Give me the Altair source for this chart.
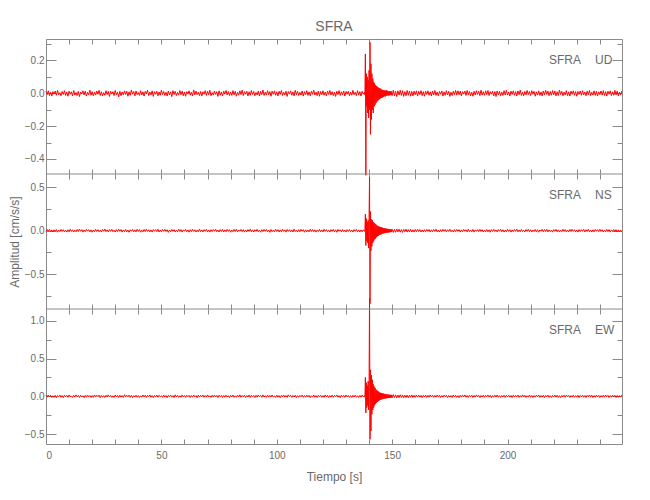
import altair as alt
import numpy as np
import pandas as pd

# ---------------- data (accelerations typed in mGal, i.e. 0.001 cm/s/s) ----------------
station = "SFRA"
components = ["UD", "NS", "EW"]
plot_title = "SFRA"
x_title = "Tiempo [s]"
y_title = "Amplitud [cm/s/s]"

x_domain = [0.0, 249.6]
x_label_values = [0, 50, 100, 150, 200]
x_tick_values = [10, 20, 30, 40, 50, 60, 70, 80, 90, 100, 110, 120, 130, 140, 150, 160,
                 170, 180, 190, 200, 210, 220, 230, 240]

ud_domain = [-0.492, 0.331]
ns_domain = [-0.90, 0.652]
ew_domain = [-0.632, 1.156]
ud_major = [-0.4, -0.2, 0.0, 0.2]
ns_major = [-0.5, 0.0, 0.5]
ew_major = [-0.5, 0.0, 0.5, 1.0]
ud_minor = [-0.3, -0.1, 0.1, 0.3]
ns_minor = [-0.75, -0.25, 0.25]
ew_minor = [-0.25, 0.25, 0.75]

pre_start, pre_step = 0.0, 0.5
evt_start, evt_step = 138.0, 0.2
post_start, post_step = 150.0, 0.5

ud_pre = [12, -8, 15, -14, 6, -17, 10, -5, 14, -12, 18, -9, 4, -15, 11, -7, 16, -13, 8, -18,
          13, -6, 9, -16, 17, -11, 5, -14, 12, -20, 8, -4, 15, -10, 13, -17, 6, -9, 19, -12,
          10, -15, 7, -11, 14, -6, 18, -13, 9, -16, 4, -12, 16, -8, 11, -19, 13, -5, 10, -14,
          17, -9, 6, -22, 12, -15, 8, -10, 15, -7, 13, -18, 9, -12, 20, -6, 11, -16, 14, -8,
          5, -13, 16, -11, 9, -17, 12, -4, 18, -14, 7, -10, 15, -19, 10, -6, 13, -15, 8, -12,
          19, -8, 11, -13, 6, -16, 14, -10, 9, -20, 16, -7, 12, -14, 5, -11, 17, -9, 13, -15,
          8, -18, 10, -5, 15, -12, 7, -16, 21, -10, 13, -8, 6, -14, 11, -17, 9, -6, 16, -13,
          12, -9, 18, -15, 4, -11, 14, -7, 10, -19, 15, -12, 8, -16, 13, -5, 17, -10, 11, -14,
          7, -13, 16, -9, 12, -18, 6, -11, 15, -8, 19, -14, 10, -6, 13, -16, 9, -12, 17, -7,
          11, -15, 5, -10, 14, -17, 12, -8, 20, -13, 7, -11, 16, -9, 10, -18, 13, -6, 15, -12,
          9, -16, 12, -7, 17, -14, 6, -10, 13, -19, 11, -5, 15, -12, 8, -16, 18, -9, 12, -13,
          6, -11, 14, -17, 10, -8, 16, -13, 9, -15, 12, -6, 19, -10, 7, -14, 13, -18, 11, -9,
          15, -12, 8, -16, 13, -7, 17, -11, 10, -14, 6, -19, 12, -8, 16, -13, 9, -10, 14, -17,
          11, -6, 13, -15, 8, -12, 18, -9, 7, -14, 16, -11, 10, -17, 12, -5]
ud_evt = [6, -10, 240, -500, 120, -80, 100, -120, 80, -150,
          140, -100, 310, -250, 180, -160, 120, -100, 90, -120,
          70, -80, 60, -70, 50, -60, 45, -50, 40, -45,
          35, -40, 30, -35, 30, -30, 25, -28, 22, -25,
          20, -22, 20, -18, 17, -20, 16, -15, 18, -14,
          15, -13, 12, -14, 11, -12, 13, -10, 12, -11]
ud_post = [-14, 19, -16, 12, -20, 15, -11, 18, -13, 16, -19, 10, -15, 17, -12, 14, -18, 11, -16, 13,
           -9, 15, -17, 12, -8, 16, -14, 10, -18, 13, -7, 15, -12, 9, -16, 14, -10, 17, -13, 8,
           -15, 11, -6, 14, -17, 9, -12, 16, -10, 13, -19, 7, -14, 12, -8, 18, -11, 15, -9, 13,
           -16, 10, -5, 14, -13, 17, -9, 11, -15, 6, -18, 12, -10, 16, -7, 13, -14, 19, -11, 9,
           -12, 15, -8, 17, -14, 10, -6, 13, -16, 11, -20, 14, -9, 12, -15, 7, -13, 16, -10, 18,
           -11, 8, -17, 13, -7, 15, -12, 10, -16, 14, -9, 19, -13, 6, -15, 12, -10, 17, -8, 11,
           -14, 16, -6, 12, -18, 9, -11, 15, -13, 8, -16, 14, -10, 18, -7, 13, -15, 11, -12, 17,
           -9, 14, -16, 10, -13, 19, -8, 12, -15, 7, -11, 16, -14, 9, -17, 13, -6, 15, -12, 10,
           -18, 11, -7, 14, -12, 16, -10, 8, -15, 13, -9, 17, -14, 6, -11, 15, -13, 12, -16, 9,
           -8, 14, -11, 16, -13, 10, -17, 12, -6, 15, -14, 9, -12, 18, -10, 13, -15, 7, -11, 14]

ns_pre = [-10, 14, -7, 16, -12, 9, -15, 11, -6, 13, -17, 8, -11, 15, -9, 12, -14, 7, -16, 10,
          -13, 17, -8, 11, -15, 6, -12, 14, -10, 18, -7, 13, -16, 9, -11, 15, -5, 12, -14, 10,
          -17, 8, -13, 16, -9, 11, -12, 7, -15, 14, -6, 19, -11, 10, -14, 13, -8, 16, -12, 6,
          -15, 12, -10, 17, -7, 13, -16, 9, -11, 14, -13, 8, -18, 11, -6, 15, -12, 10, -14, 16,
          -9, 12, -17, 7, -13, 15, -10, 18, -8, 11, -14, 9, -16, 13, -6, 12, -11, 17, -15, 8,
          -12, 14, -7, 16, -10, 11, -19, 9, -13, 15, -8, 12, -14, 6, -11, 17, -9, 13, -16, 10,
          -6, 15, -12, 9, -17, 13, -10, 16, -8, 11, -15, 7, -13, 18, -11, 10, -14, 12, -7, 16,
          -13, 9, -16, 11, -10, 14, -6, 17, -12, 8, -15, 13, -9, 16, -14, 10, -11, 15, -8, 12,
          -17, 7, -12, 14, -10, 18, -13, 9, -6, 15, -11, 12, -16, 8, -14, 13, -9, 17, -12, 10,
          -15, 11, -8, 16, -13, 6, -17, 12, -10, 14, -7, 15, -12, 9, -18, 13, -11, 8, -14, 16,
          -9, 13, -15, 10, -12, 17, -7, 11, -16, 14, -8, 12, -13, 9, -15, 18, -10, 7, -14, 13,
          -11, 15, -6, 12, -17, 10, -14, 8, -13, 16, -9, 14, -12, 11, -16, 7, -10, 15, -13, 9,
          -14, 17, -8, 13, -11, 6, -15, 12, -9, 16, -13, 10, -18, 14, -7, 11, -12, 15, -10, 8,
          -16, 12, -9, 14, -11, 7, -15, 13, -8, 16, -12, 10, -14, 9, -13, 11]
ns_evt = [-8, 12, 190, -170, 140, -120, 100, -140, 120, -200,
          150, 615, -840, 220, -230, 130, -180, 120, -140, 100,
          -120, 90, -100, 80, -90, 70, -75, 60, -65, 55,
          -60, 50, -50, 45, -45, 40, -42, 38, -35, 34,
          -33, 30, -30, 28, -27, 26, -25, 24, -22, 23,
          -21, 20, -20, 19, -18, 18, -17, 16, -16, 15]
ns_post = [17, -20, 15, -18, 19, -14, 16, -17, 13, -19, 15, -12, 18, -16, 14, -13, 17, -15, 11, -16,
           14, -12, 16, -10, 13, -15, 9, -14, 12, -11, 15, -8, 13, -16, 10, -12, 14, -9, 17, -13,
           8, -15, 12, -10, 16, -7, 13, -14, 11, -9, 17, -12, 6, -15, 13, -10, 14, -8, 12, -16,
           9, -13, 15, -6, 11, -14, 17, -10, 8, -12, 14, -16, 10, -7, 13, -11, 16, -9, 12, -15,
           7, -11, 14, -13, 10, -17, 12, -8, 15, -10, 9, -14, 13, -6, 16, -12, 11, -15, 8, -13,
           15, -9, 12, -16, 10, -11, 14, -7, 17, -13, 9, -12, 15, -10, 6, -14, 13, -8, 16, -11,
           12, -15, 8, -10, 14, -13, 11, -17, 9, -6, 15, -12, 13, -9, 16, -14, 10, -11, 7, -16,
           13, -8, 15, -12, 10, -14, 6, -11, 17, -9, 12, -15, 8, -13, 14, -10, 16, -7, 11, -12,
           9, -16, 13, -10, 12, -7, 15, -14, 11, -9, 17, -12, 8, -15, 10, -13, 14, -6, 12, -11,
           16, -9, 11, -14, 7, -12, 15, -10, 13, -16, 9, -8, 14, -11, 12, -15, 10, -13, 8, -12]

ew_pre = [14, -11, 18, -9, 13, -16, 7, -15, 12, -19, 10, -6, 16, -13, 9, -17, 15, -8, 11, -14,
          17, -10, 6, -15, 13, -12, 19, -8, 11, -16, 14, -9, 7, -18, 12, -13, 16, -7, 10, -15,
          9, -14, 17, -11, 13, -6, 15, -19, 10, -12, 8, -16, 14, -10, 18, -9, 12, -15, 6, -13,
          16, -8, 11, -17, 14, -12, 9, -15, 20, -10, 13, -7, 16, -14, 11, -18, 8, -11, 15, -13,
          10, -16, 7, -12, 17, -9, 14, -15, 12, -6, 18, -13, 9, -17, 11, -10, 15, -12, 13, -8,
          6, -14, 16, -11, 10, -18, 13, -7, 15, -12, 9, -16, 19, -10, 12, -14, 8, -13, 17, -9,
          11, -15, 14, -6, 12, -17, 10, -13, 16, -8, 9, -19, 15, -11, 13, -7, 17, -14, 10, -12,
          18, -10, 7, -15, 13, -12, 16, -9, 11, -18, 14, -6, 12, -16, 10, -13, 15, -11, 8, -17,
          13, -9, 17, -14, 6, -12, 15, -10, 19, -13, 11, -8, 14, -16, 9, -11, 16, -15, 12, -7,
          10, -17, 13, -12, 16, -6, 11, -14, 18, -10, 8, -15, 14, -13, 12, -9, 17, -11, 7, -16,
          15, -12, 9, -18, 13, -8, 16, -11, 10, -14, 19, -7, 12, -15, 11, -10, 14, -17, 8, -13,
          12, -7, 16, -14, 10, -12, 15, -9, 13, -18, 7, -11, 17, -13, 9, -16, 12, -6, 14, -15,
          8, -13, 18, -10, 12, -16, 9, -11, 15, -14, 13, -7, 16, -12, 10, -19, 14, -9, 11, -15,
          17, -8, 12, -14, 9, -16, 13, -10, 15, -12, 7, -17, 11, -13, 16, -9]
ew_evt = [9, -12, 250, -220, 180, -150, 140, -120, 200, -180,
          160, 1300, -570, 350, -460, 280, -240, 220, -180, 160,
          -150, 130, -120, 110, -100, 90, -85, 80, -75, 70,
          -65, 60, -55, 50, -50, 45, -45, 42, -40, 38,
          -36, 35, -33, 32, -30, 30, -28, 27, -26, 25,
          -24, 23, -22, 22, -21, 20, -20, 19, -18, 18]
ew_post = [-20, 22, -17, 19, -21, 16, -18, 20, -15, 18, -19, 14, -17, 16, -20, 15, -14, 18, -16, 13,
           -15, 17, -12, 16, -14, 11, -17, 13, -10, 15, -16, 12, -13, 18, -9, 14, -15, 11, -12, 16,
           -8, 13, -16, 10, -12, 15, -7, 14, -17, 11, -13, 9, -15, 16, -10, 12, -14, 8, -18, 13,
           -11, 15, -9, 17, -13, 10, -16, 12, -6, 14, -15, 11, -12, 18, -8, 13, -17, 9, -10, 15,
           -14, 12, -7, 16, -11, 13, -18, 9, -12, 15, -10, 17, -13, 8, -16, 11, -9, 14, -15, 12,
           -6, 14, -13, 10, -17, 15, -11, 12, -8, 16, -14, 9, -12, 18, -10, 13, -15, 7, -11, 16,
           -13, 11, -16, 9, -12, 14, -7, 17, -15, 10, -11, 13, -18, 12, -9, 15, -14, 8, -16, 11,
           -10, 16, -12, 13, -15, 8, -17, 11, -9, 14, -13, 17, -6, 12, -16, 10, -11, 15, -14, 9,
           -12, 14, -18, 11, -8, 15, -13, 10, -16, 12, -7, 17, -11, 13, -15, 9, -14, 16, -10, 12,
           -15, 9, -11, 14, -13, 16, -8, 12, -17, 10, -12, 15, -9, 13, -16, 11, -14, 8, -12, 15]

# ---------------- styling ----------------
W, PH = 576, 135          # plot width, height of one panel
NP = 3
RED = "#ff0000"
FRAME = "#8a8a8a"
TEXT = "#6a6a6a"
FONT = "Liberation Sans Narrow, Liberation Sans, Arial, sans-serif"


def trace_frame(pre, evt, post):
    t = np.concatenate([
        pre_start + pre_step * np.arange(len(pre)),
        evt_start + evt_step * np.arange(len(evt)),
        post_start + post_step * np.arange(len(post)),
    ])
    v = np.concatenate([np.array(pre), np.array(evt), np.array(post)]) / 1000.0
    return pd.DataFrame({"t": t, "v": v})


def tick_axis(orient, values, size, offset):
    return alt.Axis(orient=orient, values=values, offset=offset, tickSize=size,
                    labels=False, domain=False, grid=False, title=None,
                    tickColor=FRAME, tickWidth=1, minExtent=0, maxExtent=0)


xs = alt.Scale(domain=x_domain, nice=False, zero=False)
dummy = pd.DataFrame({"t": [0.0], "v": [0.0]})

panels = [
    ("UD", ud_pre, ud_evt, ud_post, ud_domain, ud_major, ud_minor),
    ("NS", ns_pre, ns_evt, ns_post, ns_domain, ns_major, ns_minor),
    ("EW", ew_pre, ew_evt, ew_post, ew_domain, ew_major, ew_minor),
]

layers = []
for i, (comp, pre, evt, post, dom, major, minor) in enumerate(panels):
    df = trace_frame(pre, evt, post)
    ys = alt.Scale(domain=dom, range=[PH * (i + 1), PH * i], nice=False, zero=False)

    if i == NP - 1:
        xaxis = alt.Axis(orient="bottom", values=x_label_values, format="d", ticks=False,
                         domain=False, grid=False, labelPadding=6, title=x_title,
                         titlePadding=11, minExtent=0)
    else:
        xaxis = None
    if comp == "NS":
        yaxis = alt.Axis(orient="left", values=major, format=".1f", ticks=False,
                         domain=False, grid=False, labelPadding=2, title=y_title,
                         titlePadding=3, minExtent=0)
    else:
        yaxis = alt.Axis(orient="left", values=major, format=".1f", ticks=False,
                         domain=False, grid=False, labelPadding=2, title=None, minExtent=0)

    layers.append(alt.Chart(df).mark_line(color=RED, strokeWidth=1).encode(
        x=alt.X("t:Q", scale=xs, axis=xaxis),
        y=alt.Y("v:Q", scale=ys, axis=yaxis),
    ))

    def ghost(xa, ya):
        return alt.Chart(dummy).mark_point(opacity=0, size=1).encode(
            x=alt.X("t:Q", scale=xs, axis=xa),
            y=alt.Y("v:Q", scale=ys, axis=ya),
        )

    top_off = -(PH * i + 5)
    bot_off = -(PH * (NP - 1 - i) + 5)
    layers.append(ghost(tick_axis("top", x_tick_values, 5, top_off),
                        tick_axis("left", major, 10, -10)))
    layers.append(ghost(tick_axis("bottom", x_tick_values, 5, bot_off),
                        tick_axis("right", major, 10, -10)))
    layers.append(ghost(None, tick_axis("left", minor, 5, -5)))
    layers.append(ghost(None, tick_axis("right", minor, 5, -5)))

    ann = pd.DataFrame({"station": [station], "comp": [comp]})
    layers.append(alt.Chart(ann).mark_text(align="right", baseline="middle", font=FONT,
                                           fontSize=12, color=TEXT).encode(
        x=alt.value(535), y=alt.value(PH * i + 21), text="station:N"))
    layers.append(alt.Chart(ann).mark_text(align="left", baseline="middle", font=FONT,
                                           fontSize=12, color=TEXT).encode(
        x=alt.value(549), y=alt.value(PH * i + 21), text="comp:N"))

    if i > 0:
        layers.append(alt.Chart(ann).mark_rule(color=FRAME, strokeWidth=1).encode(
            x=alt.value(0), x2=alt.value(W), y=alt.value(PH * i)))

chart = alt.layer(*layers).resolve_scale(y="independent").resolve_axis(
    x="independent", y="independent"
).properties(
    width=W, height=PH * NP,
    title=alt.TitleParams(plot_title, frame="group", anchor="middle", offset=-6,
                          fontSize=14, font=FONT, color=TEXT, fontWeight="normal",
                          baseline="alphabetic"),
    padding={"left": 0, "top": 11, "right": 5, "bottom": 5},
).configure_view(
    stroke=FRAME, strokeWidth=1
).configure_axis(
    labelFont=FONT, labelColor=TEXT, labelFontSize=10,
    titleFont=FONT, titleColor=TEXT, titleFontSize=12, titleFontWeight="normal",
)

chart.save("out.html", embed_options={"renderer": "svg", "actions": False})
